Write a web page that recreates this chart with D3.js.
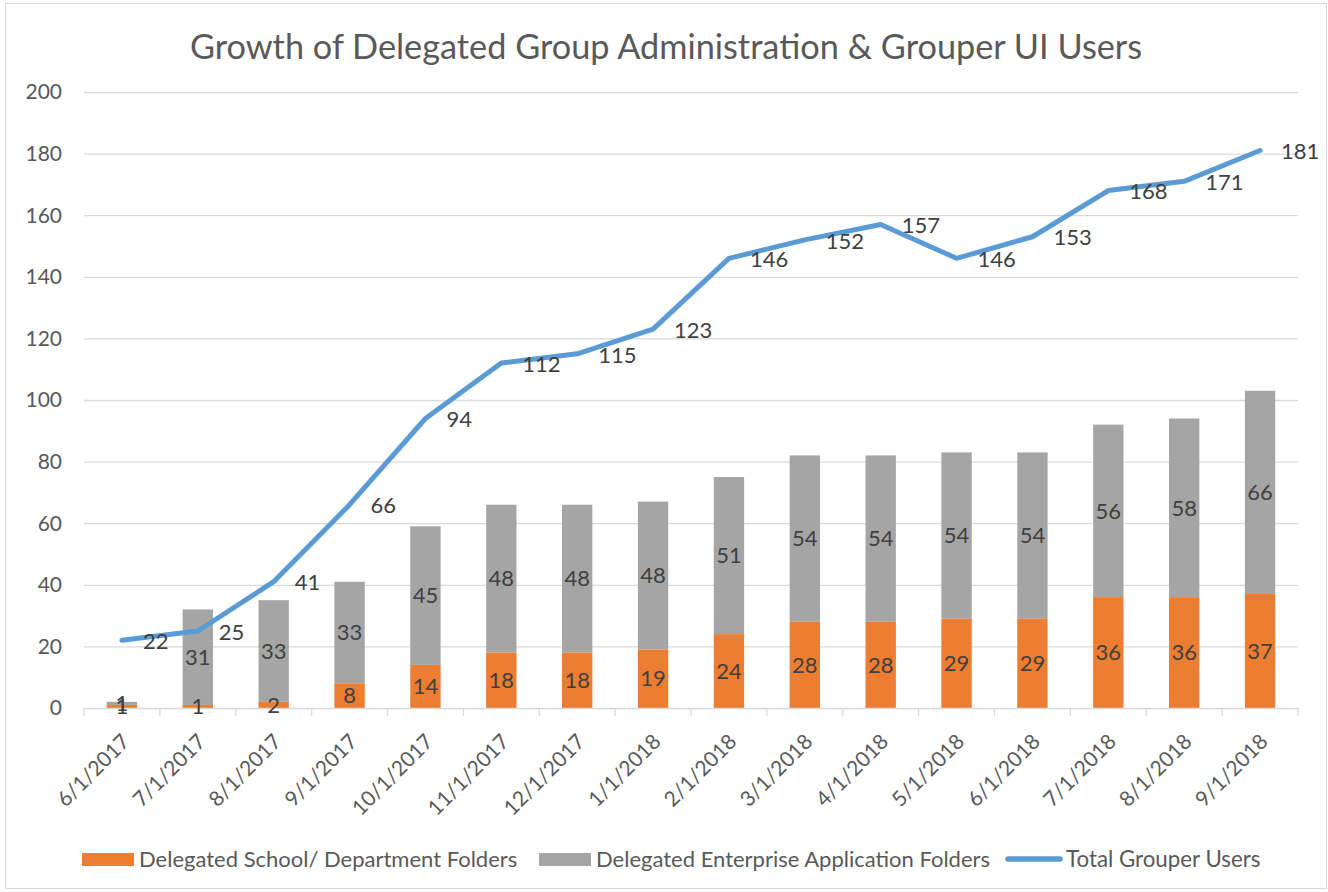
<!DOCTYPE html>
<html>
<head>
<meta charset="utf-8">
<script src="https://cdn.jsdelivr.net/npm/d3@7"></script>
<style>
  body { margin: 0; background: #fff; }
  svg text { font-family: Lato, "Open Sans", sans-serif; fill: #595959; }
</style>
</head>
<body>
<div id="chart"></div>
<script>
const months = ['6/1/2017', '7/1/2017', '8/1/2017', '9/1/2017', '10/1/2017', '11/1/2017', '12/1/2017',
  '1/1/2018', '2/1/2018', '3/1/2018', '4/1/2018', '5/1/2018', '6/1/2018', '7/1/2018', '8/1/2018', '9/1/2018'];
const schoolFolders = [1, 1, 2, 8, 14, 18, 18, 19, 24, 28, 28, 29, 29, 36, 36, 37];
const enterpriseFolders = [1, 31, 33, 33, 45, 48, 48, 48, 51, 54, 54, 54, 54, 56, 58, 66];
const totalUsers = [22, 25, 41, 66, 94, 112, 115, 123, 146, 152, 157, 146, 153, 168, 171, 181];
const yTicks = [0, 20, 40, 60, 80, 100, 120, 140, 160, 180, 200];
const seriesNames = ['Delegated School/ Department Folders', 'Delegated Enterprise Application Folders', 'Total Grouper Users'];

const W = 1328, H = 892;
const margins = { top: 92, left: 84, right: 30, bottom: 184 };
const colors = { school: '#ED7D31', enterprise: '#A5A5A5', total: '#5B9BD5' };

let svg = d3.select('#chart').append('svg')
  .attr('width', W)
  .attr('height', H);

svg.append('rect')
  .attr('x', 5.5).attr('y', 3.5)
  .attr('width', W - 7).attr('height', H - 7)
  .attr('fill', '#fff')
  .attr('stroke', '#D9D9D9');

svg.append('text')
  .attr('x', W / 2 + 2).attr('y', 59)
  .attr('text-anchor', 'middle')
  .style('font-size', '34.3px')
  .text('Growth of Delegated Group Administration & Grouper UI Users');

let x = d3.scaleBand()
  .domain(months)
  .range([margins.left, W - margins.right]);
let y = d3.scaleLinear()
  .domain([0, 200])
  .range([H - margins.bottom, margins.top]);

// grid
svg.append('g').selectAll('line')
  .data(yTicks.slice(1))
  .join('line')
  .attr('x1', margins.left).attr('x2', W - margins.right)
  .attr('y1', d => y(d) + 0.5).attr('y2', d => y(d) + 0.5)
  .attr('stroke', '#D9D9D9')
  .attr('stroke-width', 1.3);

// y axis labels
svg.append('g').selectAll('text')
  .data(yTicks)
  .join('text')
  .attr('x', 62)
  .attr('y', d => y(d))
  .attr('dy', '0.35em')
  .attr('text-anchor', 'end')
  .style('font-size', '21px')
  .text(d => d);

// bars
let barW = x.step() * 0.4;
let rows = months.map((m, i) => ({ m, s: schoolFolders[i], e: enterpriseFolders[i] }));

let bars = svg.append('g');
bars.selectAll('rect.e')
  .data(rows)
  .join('rect')
  .attr('class', 'e')
  .attr('x', d => x(d.m) + (x.bandwidth() - barW) / 2)
  .attr('y', d => y(d.s + d.e))
  .attr('width', barW)
  .attr('height', d => y(d.s) - y(d.s + d.e))
  .attr('fill', colors.enterprise);
bars.selectAll('rect.s')
  .data(rows)
  .join('rect')
  .attr('class', 's')
  .attr('x', d => x(d.m) + (x.bandwidth() - barW) / 2)
  .attr('y', d => y(d.s))
  .attr('width', barW)
  .attr('height', d => y(0) - y(d.s))
  .attr('fill', colors.school);

// x axis
let xAxisG = svg.append('g')
  .attr('transform', `translate(0,${y(0)})`);
xAxisG.append('line')
  .attr('x1', margins.left).attr('x2', W - margins.right)
  .attr('y1', 0.5).attr('y2', 0.5)
  .attr('stroke', '#D9D9D9').attr('stroke-width', 1.3);
xAxisG.selectAll('line.tick')
  .data(months.concat(['end']))
  .join('line')
  .attr('class', 'tick')
  .attr('x1', (d, i) => margins.left + i * x.step())
  .attr('x2', (d, i) => margins.left + i * x.step())
  .attr('y1', 0).attr('y2', 8)
  .attr('stroke', '#D9D9D9').attr('stroke-width', 1.3);
xAxisG.selectAll('text')
  .data(months)
  .join('text')
  .attr('transform', d => `translate(${x(d) + x.bandwidth() / 2 + 9},${35}) rotate(-45)`)
  .attr('text-anchor', 'end')
  .style('font-size', '21px')
  .text(d => d);

// bar labels
let labelG = svg.append('g').style('font-size', '22px');
labelG.selectAll('text.s')
  .data(rows)
  .join('text')
  .attr('x', d => x(d.m) + x.bandwidth() / 2)
  .attr('y', d => (y(0) + y(d.s)) / 2)
  .attr('dy', '0.35em')
  .attr('text-anchor', 'middle')
  .style('fill', '#404040')
  .text(d => d.s);
labelG.selectAll('text.e')
  .data(rows)
  .join('text')
  .attr('x', d => x(d.m) + x.bandwidth() / 2)
  .attr('y', d => (y(d.s) + y(d.s + d.e)) / 2)
  .attr('dy', '0.35em')
  .attr('text-anchor', 'middle')
  .style('fill', '#404040')
  .text(d => d.e);

// total line
let line = d3.line()
  .x((d, i) => x(months[i]) + x.bandwidth() / 2)
  .y(d => y(d));
svg.append('path')
  .datum(totalUsers)
  .attr('d', line)
  .attr('fill', 'none')
  .attr('stroke', colors.total)
  .attr('stroke-width', 5)
  .attr('stroke-linecap', 'round')
  .attr('stroke-linejoin', 'round');
svg.append('g').selectAll('text')
  .data(totalUsers)
  .join('text')
  .attr('x', (d, i) => x(months[i]) + x.bandwidth() / 2 + 21)
  .attr('y', d => y(d) + 1)
  .attr('dy', '0.35em')
  .style('font-size', '22px')
  .style('fill', '#404040')
  .text(d => d);

// legend
let legend = svg.append('g').style('font-size', '22px');
legend.append('rect').attr('x', 82).attr('y', 853).attr('width', 52).attr('height', 13).attr('fill', colors.school);
legend.append('text').attr('x', 139).attr('y', 859).attr('dy', '0.35em').text(seriesNames[0]);
legend.append('rect').attr('x', 539).attr('y', 853).attr('width', 52).attr('height', 13).attr('fill', colors.enterprise);
legend.append('text').attr('x', 596).attr('y', 859).attr('dy', '0.35em').text(seriesNames[1]);
legend.append('line').attr('x1', 1008).attr('x2', 1060).attr('y1', 859).attr('y2', 859)
  .attr('stroke', colors.total).attr('stroke-width', 5.5).attr('stroke-linecap', 'round');
legend.append('text').attr('x', 1066).attr('y', 859).attr('dy', '0.35em')
  .style('font-size', '22.3px').text(seriesNames[2]);
</script>
</body>
</html>
